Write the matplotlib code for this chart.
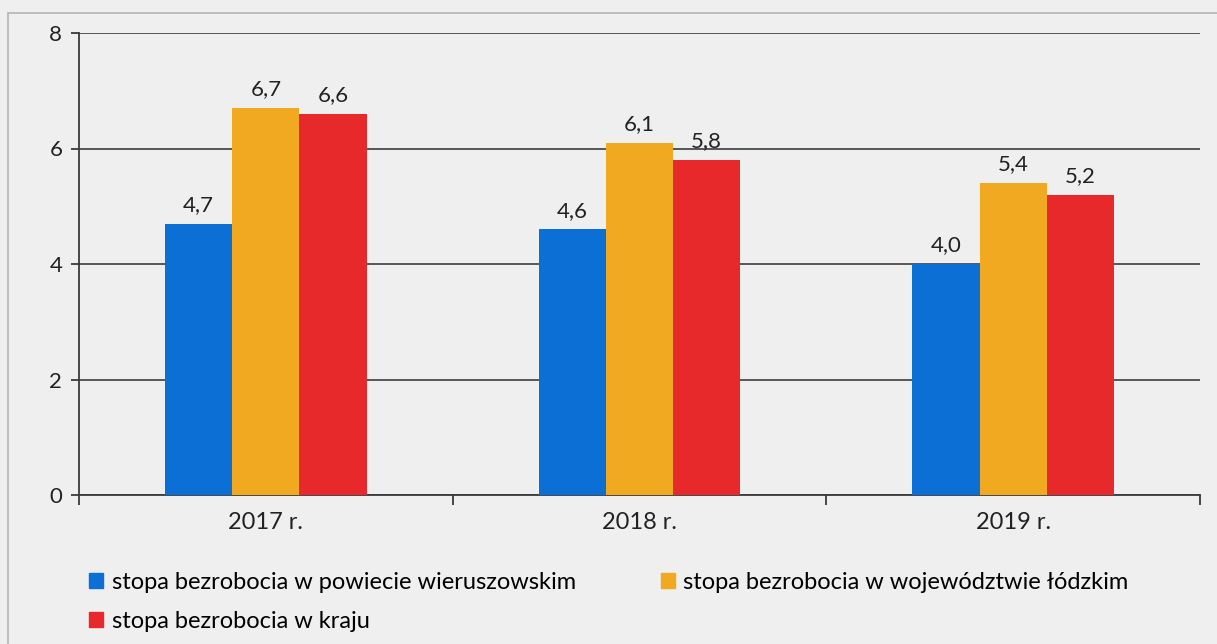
import numpy as np
import matplotlib.pyplot as plt
from matplotlib.patches import Rectangle, Patch

# dane
years = ['2017 r.', '2018 r.', '2019 r.']
powiat = [4.7, 4.6, 4.0]
wojewodztwo = [6.7, 6.1, 5.4]
kraj = [6.6, 5.8, 5.2]
series_names = ['stopa bezrobocia w powiecie wieruszowskim',
                'stopa bezrobocia w województwie łódzkim',
                'stopa bezrobocia w kraju']
colors = ['#0b6fd6', '#f2a922', '#e8292b']

plt.rcParams['font.family'] = ['Lato', 'DejaVu Sans']

fig = plt.figure(figsize=(12.17, 6.44), dpi=100, facecolor='#efefef')
# ramka skanu
fig.patches.append(Rectangle((8 / 1217, -0.05), 1.1, (644 - 13) / 644 + 0.05,
                             transform=fig.transFigure, fill=False,
                             edgecolor='#b5b5b5', linewidth=1.2))
ax = fig.add_axes([79 / 1217, 149 / 644, 1121 / 1217, 462 / 644])
ax.set_facecolor('none')

x = np.arange(len(years))
w = 0.18
for i, (vals, c) in enumerate(zip([powiat, wojewodztwo, kraj], colors)):
    b = ax.bar(x + (i - 1) * w, vals, width=w, color=c, zorder=3)
    for rect, v in zip(b, vals):
        ax.text(rect.get_x() + rect.get_width() / 2, v + 0.15,
                f'{v:.1f}'.replace('.', ','), ha='center', va='bottom',
                fontsize=16, color='#222222', zorder=4)

ax.set_xlim(-0.5, 2.5)
ax.set_ylim(0, 8)
ax.set_yticks([0, 2, 4, 6, 8])
ax.yaxis.grid(True, color='#4a4a4a', linewidth=1.3, zorder=1)
ax.set_axisbelow(True)
for s in ['top', 'right']:
    ax.spines[s].set_visible(False)
for s in ['left', 'bottom']:
    ax.spines[s].set_color('#3a3a3a')
    ax.spines[s].set_linewidth(1.3)

ax.set_xticks(x)
ax.set_xticklabels(years)
ax.set_xticks([-0.5, 0.5, 1.5, 2.5], minor=True)
ax.tick_params(axis='x', which='major', length=0, pad=12, labelsize=17, labelcolor='#222222')
ax.tick_params(axis='x', which='minor', length=7, width=1.3, color='#3a3a3a', direction='out')
ax.tick_params(axis='y', length=6, width=1.3, color='#3a3a3a', labelsize=16,
               labelcolor='#222222', pad=6)

handles = [Patch(color=colors[0]), Patch(color=colors[2]), Patch(color=colors[1])]
labels = [series_names[0], series_names[2], series_names[1]]
fig.legend(handles, labels, loc='upper left', bbox_to_anchor=(68 / 1217, 1 - 551 / 644),
           ncol=2, frameon=False, fontsize=17, handlelength=0.6, handleheight=0.6,
           handletextpad=0.35, columnspacing=3.6, labelspacing=0.75)

fig.savefig('out.png', dpi=100, facecolor=fig.get_facecolor())
